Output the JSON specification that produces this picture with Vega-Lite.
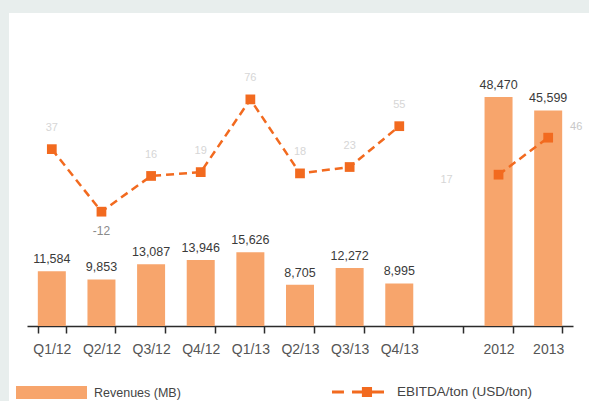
{
  "$schema": "https://vega.github.io/schema/vega-lite/v6.json",
  "width": 580,
  "height": 388,
  "autosize": {"type": "none"},
  "padding": {"left": 9, "top": 13, "right": 0, "bottom": 0},
  "background": "#e8eeed",
  "config": {
    "view": {"fill": "white", "stroke": null},
    "font": "Liberation Sans",
    "legend": {"labelFont": "Liberation Sans", "labelFontSize": 12.5, "labelColor": "#444444", "padding": 0, "title": null}
  },
  "data": {
    "values": [
      {"period": "Q1/12", "revenue": 11584, "ebitda": 37, "seg": "q", "i": 1},
      {"period": "Q2/12", "revenue": 9853, "ebitda": -12, "seg": "q", "i": 2},
      {"period": "Q3/12", "revenue": 13087, "ebitda": 16, "seg": "q", "i": 3},
      {"period": "Q4/12", "revenue": 13946, "ebitda": 19, "seg": "q", "i": 4},
      {"period": "Q1/13", "revenue": 15626, "ebitda": 76, "seg": "q", "i": 5},
      {"period": "Q2/13", "revenue": 8705, "ebitda": 18, "seg": "q", "i": 6},
      {"period": "Q3/13", "revenue": 12272, "ebitda": 23, "seg": "q", "i": 7},
      {"period": "Q4/13", "revenue": 8995, "ebitda": 55, "seg": "q", "i": 8},
      {"period": "2012", "revenue": 48470, "ebitda": 17, "seg": "y", "i": 9},
      {"period": "2013", "revenue": 45599, "ebitda": 46, "seg": "y", "i": 10}
    ]
  },
  "encoding": {
    "x": {
      "field": "period",
      "type": "nominal",
      "sort": null,
      "scale": {
        "domain": ["Q1/12", "Q2/12", "Q3/12", "Q4/12", "Q1/13", "Q2/13", "Q3/13", "Q4/13", " ", "2012", "2013"],
        "range": [18, 564],
        "paddingInner": 0.435,
        "paddingOuter": 0.2175
      },
      "axis": {
        "title": null,
        "labelAngle": 0,
        "offset": -75,
        "domainColor": "#2b2b2b",
        "domainWidth": 1.5,
        "tickColor": "#2b2b2b",
        "tickWidth": 1.5,
        "tickSize": 7,
        "tickBand": "extent",
        "labelColor": "#555555",
        "labelFontSize": 14,
        "labelPadding": 9,
        "labelFont": "Liberation Sans",
        "grid": false
      }
    }
  },
  "layer": [
    {
      "mark": {"type": "bar", "width": 28},
      "encoding": {
        "y": {"field": "revenue", "type": "quantitative", "scale": {"domain": [0, 66215], "range": [313, 0], "nice": false}, "axis": null},
        "color": {
          "datum": "Revenues (MB)",
          "type": "nominal",
          "scale": {"range": ["#f7a56c"]},
          "legend": {
            "orient": "none",
            "legendX": 7,
            "legendY": 344,
            "symbolType": "M-1,-0.183H1V0.183H-1Z",
            "symbolSize": 5041,
            "symbolStrokeWidth": 0,
            "labelOffset": 7
          }
        }
      }
    },
    {
      "mark": {"type": "text", "baseline": "bottom", "dy": -5, "fontSize": 12.5, "color": "#3a3a3a", "font": "Liberation Sans"},
      "encoding": {
        "y": {"field": "revenue", "type": "quantitative", "scale": {"domain": [0, 66215], "range": [313, 0], "nice": false}, "axis": null},
        "text": {"field": "revenue", "type": "quantitative", "format": ","}
      }
    },
    {
      "mark": {"type": "line", "strokeWidth": 2.5, "strokeDash": [8, 5]},
      "encoding": {
        "y": {"field": "ebitda", "type": "quantitative", "scale": {"domain": [-101.6, 143.7], "range": [313, 0], "nice": false, "zero": false}, "axis": null},
        "detail": {"field": "seg", "type": "nominal"},
        "order": {"field": "i", "type": "quantitative"},
        "stroke": {
          "datum": "EBITDA/ton (USD/ton)",
          "type": "nominal",
          "scale": {"range": ["#f26a1f"]},
          "legend": {
            "orient": "none",
            "legendX": 323,
            "legendY": 353,
            "symbolType": "M-1,-0.058H-0.54V0.058H-1Z M-0.23,-0.058H0.15V0.058H-0.23Z M0.15,-0.19H0.54V0.19H0.15Z M0.54,-0.058H1V0.058H0.54Z",
            "symbolSize": 2704,
            "symbolStrokeWidth": 0,
            "symbolFillColor": "#f26a1f",
            "labelOffset": 13,
            "labelFontSize": 13.5,
            "symbolDash": [],
            "encode": {"symbols": {"update": {"fill": {"value": "#f26a1f"}, "strokeWidth": {"value": 0}, "strokeDash": {"value": []}}}}
          }
        }
      }
    },
    {
      "mark": {"type": "point", "shape": "square", "filled": true, "size": 95, "opacity": 1, "color": "#f26a1f"},
      "encoding": {
        "y": {"field": "ebitda", "type": "quantitative", "scale": {"domain": [-101.6, 143.7], "range": [313, 0], "nice": false, "zero": false}, "axis": null}
      }
    },
    {
      "transform": [{"filter": "datum.ebitda > 0 && datum.seg == 'q'"}],
      "mark": {"type": "text", "dy": -21, "fontSize": 11, "color": "#d6d6d6", "font": "Liberation Sans"},
      "encoding": {
        "y": {"field": "ebitda", "type": "quantitative", "scale": {"domain": [-101.6, 143.7], "range": [313, 0], "nice": false, "zero": false}, "axis": null},
        "text": {"field": "ebitda", "type": "nominal"}
      }
    },
    {
      "transform": [{"filter": "datum.ebitda < 0"}],
      "mark": {"type": "text", "dy": 19, "fontSize": 12, "color": "#8a8a8a", "font": "Liberation Sans"},
      "encoding": {
        "y": {"field": "ebitda", "type": "quantitative", "scale": {"domain": [-101.6, 143.7], "range": [313, 0], "nice": false, "zero": false}, "axis": null},
        "text": {"field": "ebitda", "type": "nominal"}
      }
    },
    {
      "transform": [{"filter": "datum.period == '2012'"}],
      "mark": {"type": "text", "dx": -52, "dy": 5, "fontSize": 11, "color": "#d6d6d6", "font": "Liberation Sans"},
      "encoding": {
        "y": {"field": "ebitda", "type": "quantitative", "scale": {"domain": [-101.6, 143.7], "range": [313, 0], "nice": false, "zero": false}, "axis": null},
        "text": {"field": "ebitda", "type": "nominal"}
      }
    },
    {
      "transform": [{"filter": "datum.period == '2013'"}],
      "mark": {"type": "text", "dx": 28, "dy": -11, "fontSize": 11, "color": "#c8c8c8", "font": "Liberation Sans"},
      "encoding": {
        "y": {"field": "ebitda", "type": "quantitative", "scale": {"domain": [-101.6, 143.7], "range": [313, 0], "nice": false, "zero": false}, "axis": null},
        "text": {"field": "ebitda", "type": "nominal"}
      }
    }
  ],
  "resolve": {"scale": {"y": "independent"}}
}
